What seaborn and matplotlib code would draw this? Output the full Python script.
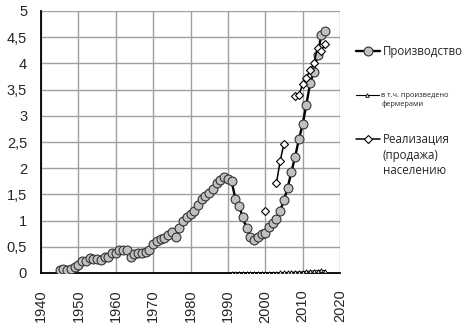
import numpy as np
import pandas as pd
import matplotlib
matplotlib.use("Agg")
import matplotlib.pyplot as plt
import seaborn as sns
from matplotlib.lines import Line2D
from matplotlib.legend_handler import HandlerLine2D

# Production, 1945-2016
years = list(range(1945, 2017))
production = [
    0.06, 0.07, 0.06, 0.07, 0.12, 0.15, 0.22, 0.23, 0.28, 0.26,
    0.26, 0.25, 0.31, 0.31, 0.39, 0.38, 0.44, 0.44, 0.44, 0.31,
    0.36, 0.39, 0.39, 0.41, 0.44, 0.55, 0.62, 0.64, 0.66, 0.73,
    0.79, 0.69, 0.85, 1.00, 1.06, 1.13, 1.19, 1.30, 1.42, 1.47,
    1.53, 1.61, 1.71, 1.77, 1.84, 1.80, 1.75, 1.42, 1.28, 1.06,
    0.85, 0.69, 0.63, 0.69, 0.74, 0.77, 0.88, 0.96, 1.04, 1.19,
    1.39, 1.63, 1.93, 2.22, 2.55, 2.84, 3.21, 3.62, 3.84, 4.16,
    4.54, 4.62,
]

# of which produced by farmers, 1991-2016
farm_years = list(range(1991, 2017))
farm_output = [
    0.005, 0.005, 0.005, 0.005, 0.005, 0.005, 0.005, 0.005, 0.005, 0.006,
    0.007, 0.008, 0.008, 0.010, 0.010, 0.012, 0.015, 0.018, 0.020, 0.022,
    0.030, 0.035, 0.040, 0.045, 0.050, 0.045,
]

# Sales to the population, 2000-2016 (no data for some years)
sales_years = list(range(2000, 2017))
sales = [
    1.19, np.nan, np.nan, 1.72, 2.14, 2.47, np.nan, np.nan, 3.37, 3.40,
    3.60, 3.73, 3.87, 4.00, 4.30, 4.24, 4.37,
]

x_ticks = [1940, 1950, 1960, 1970, 1980, 1990, 2000, 2010, 2020]
y_ticks = [0, 0.5, 1, 1.5, 2, 2.5, 3, 3.5, 4, 4.5, 5]
y_tick_labels = ["0", "0,5", "1", "1,5", "2", "2,5", "3", "3,5", "4", "4,5", "5"]

labels = [
    "Производство",
    "в т.ч. произведено\nфермерами",
    "Реализация\n(продажа)\nнаселению",
]

sns.set_style("white")
plt.rcParams["font.family"] = ["Liberation Sans", "DejaVu Sans"]

W, H = 474, 330
fig = plt.figure(figsize=(W / 100, H / 100), dpi=100)
ax = fig.add_axes([41 / W, 57 / H, 299 / W, 262 / H])

prod_style = dict(color="black", lw=1.7, marker="o", markersize=6.4,
                  markerfacecolor="#c0c0c0", markeredgecolor="#333333",
                  markeredgewidth=0.8)
farm_style = dict(color="black", lw=0.8, marker="^", markersize=2.6,
                  markerfacecolor="white", markeredgecolor="black",
                  markeredgewidth=0.6)
sales_style = dict(color="black", lw=1.1, marker="D", markersize=3.6,
                   markerfacecolor="white", markeredgecolor="black",
                   markeredgewidth=0.8)

df_prod = pd.DataFrame({"year": years, "value": production})
sns.lineplot(data=df_prod, x="year", y="value", ax=ax, legend=False,
             zorder=4, **prod_style)

df_farm = pd.DataFrame({"year": farm_years, "value": farm_output})
sns.lineplot(data=df_farm, x="year", y="value", ax=ax, legend=False,
             zorder=4, **farm_style)

# split the sales series into continuous runs so gaps stay open
df_sales = pd.DataFrame({"year": sales_years, "value": sales})
df_sales["run"] = df_sales["value"].isna().cumsum()
df_sales = df_sales.dropna()
sns.lineplot(data=df_sales, x="year", y="value", units="run", estimator=None,
             ax=ax, legend=False, zorder=5, **sales_style)

ax.set_xlim(1940, 2020)
ax.set_ylim(0, 5)
ax.set_xticks(x_ticks)
ax.set_xticklabels([str(t) for t in x_ticks], rotation=90)
ax.set_yticks(y_ticks)
ax.set_yticklabels(y_tick_labels)
ax.set_xlabel("")
ax.set_ylabel("")
for side in ("top", "right"):
    ax.spines[side].set_visible(False)
for side in ("left", "bottom"):
    ax.spines[side].set_color("black")
    ax.spines[side].set_linewidth(1.3)
ax.tick_params(axis="both", direction="out", length=4, width=1.0,
               labelsize=10.5)
ax.tick_params(axis="y", pad=6)
ax.tick_params(axis="x", pad=8)
ax.grid(True, color="#a0a0a0", linewidth=1.0)


class FirstLineHandler(HandlerLine2D):
    """Legend handle aligned with the first line of a multi-line label."""

    def __init__(self, shift=0.0, **kw):
        super().__init__(**kw)
        self.shift = shift

    def create_artists(self, legend, orig_handle, xdescent, ydescent,
                       width, height, fontsize, trans):
        artists = super().create_artists(legend, orig_handle, xdescent,
                                         ydescent, width, height, fontsize,
                                         trans)
        for a in artists:
            a.set_ydata(np.asarray(a.get_ydata(), dtype=float) + self.shift)
        return artists


entries = [
    # style, label, font size, handle left px, block center y px, shift pt, handle len pt, line spacing
    (prod_style, labels[0], 8.3, 356, 52, 0.0, 17.5, 1.2),
    (farm_style, labels[1], 5.3, 356, 100, 3.6, 16.5, 1.45),
    (sales_style, labels[2], 8.3, 356, 155, 12.2, 17.5, 1.3),
]
for style, text, fs, hx, cy, shift, hlen, lsp in entries:
    handle = Line2D([], [], **style)
    leg = fig.legend([handle], [text], loc="center left",
                     bbox_to_anchor=(hx / W, 1 - cy / H), frameon=False,
                     prop={"family": ["Open Sans", "DejaVu Sans"], "size": fs},
                     handlelength=hlen / fs, handletextpad=1.8 / fs,
                     borderpad=0, borderaxespad=0, labelspacing=0.2,
                     handler_map={handle: FirstLineHandler(shift)})
    for t in leg.get_texts():
        t.set_linespacing(lsp)

fig.savefig("out.png", dpi=100)
